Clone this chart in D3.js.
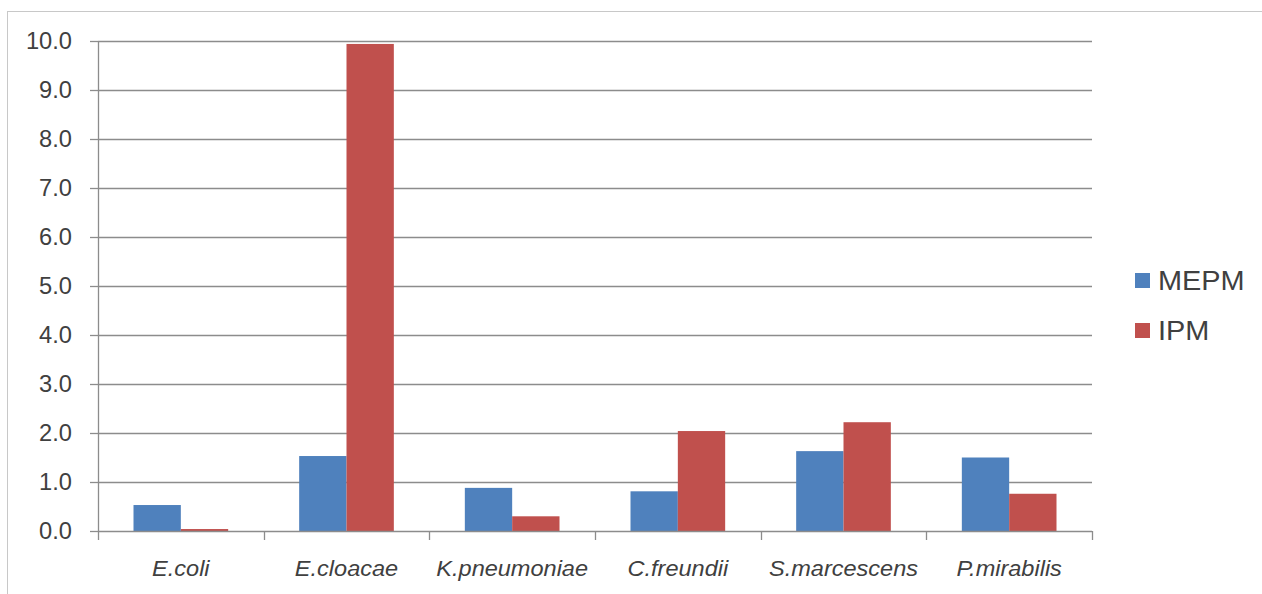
<!DOCTYPE html>
<html>
<head>
<meta charset="utf-8">
<script src="https://cdn.jsdelivr.net/npm/d3@7"></script>
<style>
  html, body { margin: 0; padding: 0; background: #fff; }
  svg { display: block; }
</style>
</head>
<body>
<svg id="chart" width="1262" height="594"></svg>
<script>
// Species and the two carbapenem series
const categories = ["E.coli", "E.cloacae", "K.pneumoniae", "C.freundii", "S.marcescens", "P.mirabilis"];
const seriesNames = ["MEPM", "IPM"];
const mepmValues = [0.53, 1.53, 0.88, 0.81, 1.63, 1.50];
const ipmValues = [0.04, 9.94, 0.30, 2.04, 2.22, 0.76];
const yTicks = [0, 1, 2, 3, 4, 5, 6, 7, 8, 9, 10];

const colors = ["#4F81BD", "#C0504D"];
const textColor = "#404040";
const gridColor = "#8C8C8C";

const svg = d3.select("#chart");

// outer chart frame
svg.append("rect")
  .attr("x", 7.5).attr("y", 11.5)
  .attr("width", 1300).attr("height", 640)
  .attr("fill", "#fff").attr("stroke", "#C8C8C8").attr("stroke-width", 1);

const plot = { left: 98, right: 1092, top: 41, bottom: 531 };

const x0 = d3.scaleBand().domain(categories).range([plot.left, plot.right]).paddingInner(0).paddingOuter(0);
const x1 = d3.scaleBand().domain(seriesNames).range([0, x0.bandwidth()]).paddingInner(0).paddingOuter(0.75);
const y = d3.scaleLinear().domain([0, 10]).range([plot.bottom, plot.top]);

// horizontal gridlines
svg.append("g").selectAll("line").data(yTicks.filter(t => t > 0)).join("line")
  .attr("x1", plot.left).attr("x2", plot.right)
  .attr("y1", d => Math.round(y(d)) + 0.5).attr("y2", d => Math.round(y(d)) + 0.5)
  .attr("stroke", gridColor).attr("stroke-width", 1.3);

// bars
const rows = categories.map((c, i) => ({ cat: c, vals: [mepmValues[i], ipmValues[i]] }));
const groups = svg.append("g").selectAll("g").data(rows).join("g")
  .attr("transform", d => `translate(${x0(d.cat)},0)`);
groups.selectAll("rect").data(d => d.vals.map((v, j) => ({ name: seriesNames[j], v, j }))).join("rect")
  .attr("x", d => x1(d.name))
  .attr("width", x1.bandwidth())
  .attr("y", d => y(d.v))
  .attr("height", d => y(0) - y(d.v))
  .attr("fill", d => colors[d.j]);

// y axis line and ticks
svg.append("line")
  .attr("x1", plot.left + 0.5).attr("x2", plot.left + 0.5)
  .attr("y1", plot.top).attr("y2", plot.bottom)
  .attr("stroke", gridColor).attr("stroke-width", 1.3);
svg.append("g").selectAll("line").data(yTicks).join("line")
  .attr("x1", plot.left - 8).attr("x2", plot.left)
  .attr("y1", d => Math.round(y(d)) + 0.5).attr("y2", d => Math.round(y(d)) + 0.5)
  .attr("stroke", gridColor).attr("stroke-width", 1.3);

// x axis line and ticks at category boundaries
svg.append("line")
  .attr("x1", plot.left).attr("x2", plot.right)
  .attr("y1", plot.bottom + 0.5).attr("y2", plot.bottom + 0.5)
  .attr("stroke", gridColor).attr("stroke-width", 1.3);
const bounds = categories.map(c => x0(c)).concat([plot.right]);
svg.append("g").selectAll("line").data(bounds).join("line")
  .attr("x1", d => Math.round(d) + 0.5).attr("x2", d => Math.round(d) + 0.5)
  .attr("y1", plot.bottom).attr("y2", plot.bottom + 9)
  .attr("stroke", gridColor).attr("stroke-width", 1.3);

// y tick labels
svg.append("g").selectAll("text").data(yTicks).join("text")
  .attr("transform", d => `translate(72,${y(d) + 8}) scale(1.03,1)`)
  .attr("text-anchor", "end")
  .attr("font-family", "Liberation Sans, Arial, sans-serif")
  .attr("font-size", 23)
  .attr("fill", textColor)
  .text(d => d3.format(".1f")(d));

// category labels
svg.append("g").selectAll("text").data(categories).join("text")
  .attr("transform", d => `translate(${x0(d) + x0.bandwidth() / 2},${plot.bottom + 45}) scale(1.07,1)`)
  .attr("text-anchor", "middle")
  .attr("font-family", "Liberation Sans, Arial, sans-serif")
  .attr("font-style", "italic")
  .attr("font-size", 22)
  .attr("fill", textColor)
  .text(d => d);

// legend
const legend = svg.append("g").selectAll("g").data(seriesNames).join("g")
  .attr("transform", (d, i) => `translate(1135,${273 + i * 50})`);
legend.append("rect")
  .attr("width", 15).attr("height", 15)
  .attr("fill", (d, i) => colors[i]);
legend.append("text")
  .attr("transform", `translate(23,17) scale(1.07,1)`)
  .attr("font-family", "Liberation Sans, Arial, sans-serif")
  .attr("font-size", 27)
  .attr("fill", textColor)
  .text(d => d);
</script>
</body>
</html>
